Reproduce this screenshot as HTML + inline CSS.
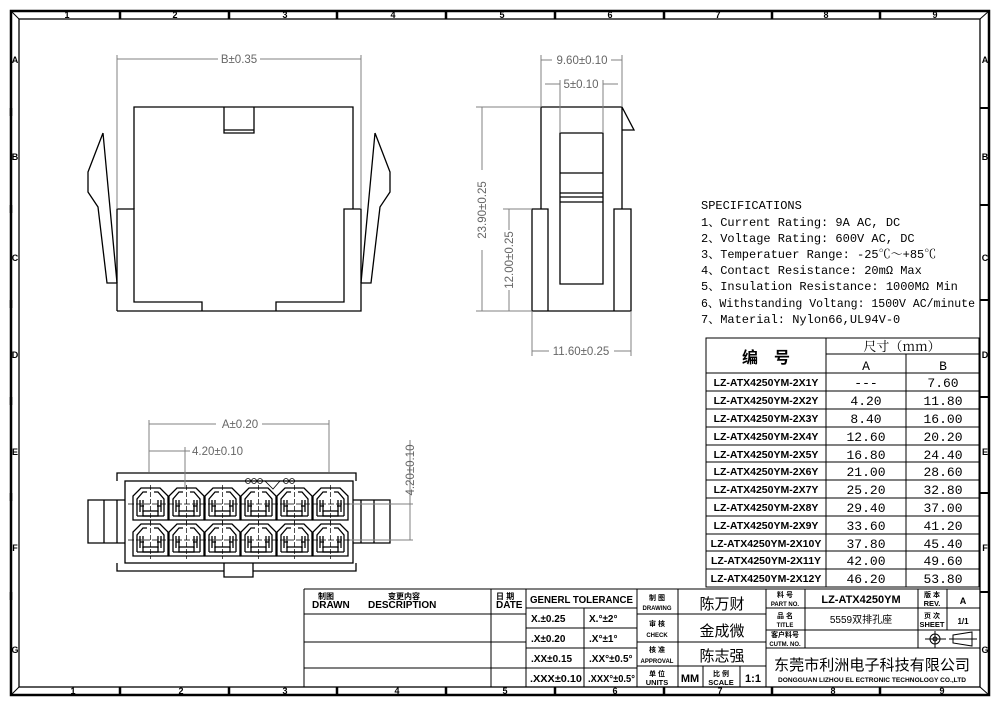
<!DOCTYPE html>
<html><head><meta charset="utf-8"><style>
html,body{margin:0;padding:0;background:#fff}
svg{display:block}
.k{stroke:#000;stroke-width:1.3;fill:none}
.d{stroke:#808080;stroke-width:1;fill:none}
.dt{font-family:"Liberation Sans",sans-serif;font-size:11.5px;fill:#666}
.sp{font-family:"Liberation Mono","Noto Serif CJK SC",monospace;font-size:12px;fill:#000}
.pn{font-family:"Liberation Sans",sans-serif;font-size:10.5px;font-weight:bold;fill:#000}
.vl{font-family:"Liberation Mono",monospace;font-size:13px;fill:#000}
.tb{font-family:"Liberation Sans","Noto Sans CJK SC",sans-serif;font-weight:bold;fill:#000}
.t{stroke:#000;stroke-width:1;fill:none}
</style></head><body>
<svg width="1000" height="707" viewBox="0 0 1000 707" xmlns="http://www.w3.org/2000/svg">
<defs>
<g id="cav">
<path class="k" stroke-width="1" d="M0,32V8L8,0H27L35,8V32Z"/>
<path class="k" stroke-width="0.9" d="M4,28V11L10,4H14M21,4H25L31,11V28M4,28H31"/>
<path class="k" stroke-width="0.9" d="M7,12V24M10,12V24M25,12V24M28,12V24M7,18H11M24,18H28"/>
<rect x="10" y="23" width="15" height="5" class="k" stroke-width="0.9"/>
<path stroke="#000" stroke-width="0.7" stroke-dasharray="5,2" d="M17.5,-3V35"/>
</g>
</defs>
<rect x="11" y="11" width="978" height="684" fill="none" stroke="#000" stroke-width="2.5"/>
<rect x="19" y="19" width="961" height="668" fill="none" stroke="#000" stroke-width="1.3"/>
<path stroke="#000" stroke-width="1" d="M11,11L19,19M989,11L980,19M11,695L19,687M989,695L980,687"/>
<g stroke="#000" stroke-width="2.5">
<path d="M120,11V19M229,11V19M337,11V19M446,11V19M555,11V19M664,11V19M772,11V19M880,11V19"/>
<path d="M120,687V695M229,687V695M337,687V695M446,687V695M555,687V695M664,687V695M772,687V695M880,687V695"/>
<path d="M11,108V116M11,205V213M11,300V308M11,397V405M11,493V501M11,592V600"/>
<path d="M980,108H989M980,205H989M980,300H989M980,397H989M980,493H989M980,592H989" stroke-width="2"/>
</g>
<g font-family="Liberation Sans,sans-serif" font-size="9" font-weight="bold" text-anchor="middle">
<text x="67" y="18">1</text><text x="175" y="18">2</text><text x="285" y="18">3</text><text x="393" y="18">4</text><text x="502" y="18">5</text><text x="610" y="18">6</text><text x="718" y="18">7</text><text x="826" y="18">8</text><text x="935" y="18">9</text>
<text x="73" y="694">1</text><text x="181" y="694">2</text><text x="285" y="694">3</text><text x="397" y="694">4</text><text x="505" y="694">5</text><text x="615" y="694">6</text><text x="720" y="694">7</text><text x="833" y="694">8</text><text x="942" y="694">9</text>
<text x="15" y="63">A</text><text x="15" y="160">B</text><text x="15" y="261">C</text><text x="15" y="358">D</text><text x="15" y="455">E</text><text x="15" y="551">F</text><text x="15" y="653">G</text>
<text x="985" y="63">A</text><text x="985" y="160">B</text><text x="985" y="261">C</text><text x="985" y="358">D</text><text x="985" y="455">E</text><text x="985" y="551">F</text><text x="985" y="653">G</text>
</g>

<path class="k" d="M134,209V107H353V209M224,107V133H254V107M224,130H254"/>
<path class="k" d="M117,311V209H134V302H202V311M117,311H361V209H344V302H276V311"/>
<path class="k" d="M103,133L88,172V192L98,207L107,283H117M103,133L117,283"/>
<path class="k" d="M375,133L390,172V192L380,207L371,283H361M375,133L361,283"/>
<path class="d" d="M117,209V55M361,209V55M117,59H218M260,59H361"/>
<text class="dt" x="239" y="63" text-anchor="middle">B±0.35</text>

<path class="k" d="M541,209V107H622V209M622,107L634,130H622"/>
<path class="k" d="M532,209H548V311H532ZM614,209H631V311H614ZM548,311H614"/>
<path class="k" d="M560,133H603V284H560ZM560,173H603M560,193H603M560,197H603M560,202H603"/>
<path class="d" d="M541,107V55M622,107V55M541,60H552M611,60H622"/>
<text class="dt" x="582" y="64" text-anchor="middle">9.60±0.10</text>
<path class="d" d="M560,133V80M603,133V80M545,84H560M603,84H618"/>
<text class="dt" x="581" y="88" text-anchor="middle">5±0.10</text>
<path class="d" d="M476,107H541M476,311H532M482,107V170M482,250V311"/>
<text class="dt" transform="translate(486,210) rotate(-90)" text-anchor="middle">23.90±0.25</text>
<path class="d" d="M503,209H532M509,209V230M509,290V311"/>
<text class="dt" transform="translate(513,260) rotate(-90)" text-anchor="middle">12.00±0.25</text>
<path class="d" d="M532,311V356M631,311V356M532,351H549M614,351H631"/>
<text class="dt" x="581" y="355" text-anchor="middle">11.60±0.25</text>

<path class="k" d="M117,481V473H356V481M117,563V571H224M253,571H356V563"/>
<rect x="125" y="481" width="228" height="82" class="k"/>
<path class="k" d="M125,500H88V543H125M104,500V543M117,500V543"/>
<path class="k" d="M353,500H390V543H353M374,500V543M361,500V543"/>
<path class="k" d="M224,563V577H253V563"/>
<g fill="none" stroke="#000" stroke-width="0.8"><circle cx="248" cy="481" r="2.5"/><circle cx="254" cy="481" r="2.5"/><circle cx="260" cy="481" r="2.5"/><circle cx="286" cy="481" r="2.5"/><circle cx="292" cy="481" r="2.5"/><path d="M265,481L273,489L280,481"/></g>
<g>
<use href="#cav" x="133" y="488"/><use href="#cav" x="169" y="488"/><use href="#cav" x="205" y="488"/><use href="#cav" x="241" y="488"/><use href="#cav" x="277" y="488"/><use href="#cav" x="313" y="488"/>
<use href="#cav" x="133" y="524"/><use href="#cav" x="169" y="524"/><use href="#cav" x="205" y="524"/><use href="#cav" x="241" y="524"/><use href="#cav" x="277" y="524"/><use href="#cav" x="313" y="524"/>
</g>
<path stroke="#000" stroke-width="0.7" stroke-dasharray="6,2" d="M128,504H350M128,540H350"/>
<path class="d" d="M149,472V420M329,472V420M149,424H216M262,424H329"/>
<text class="dt" x="240" y="428" text-anchor="middle">A±0.20</text>
<path class="d" d="M185,488V447M149,451H190"/>
<text class="dt" x="192" y="455">4.20±0.10</text>
<path class="d" d="M350,504H413M350,540H413M410,504V540M410,440V504"/>
<text class="dt" transform="translate(414,470) rotate(-90)" text-anchor="middle">4.20±0.10</text>

<g class="sp">
<text x="701" y="209">SPECIFICATIONS</text>
<text x="701" y="226">1、Current Rating: 9A AC, DC</text>
<text x="701" y="242">2、Voltage Rating: 600V AC, DC</text>
<text x="701" y="258">3、Temperatuer Range: -25℃～+85℃</text>
<text x="701" y="274">4、Contact Resistance: 20mΩ Max</text>
<text x="701" y="290">5、Insulation Resistance: 1000MΩ Min</text>
<text x="701" y="307" textLength="274" lengthAdjust="spacingAndGlyphs">6、Withstanding Voltang: 1500V AC/minute</text>
<text x="701" y="323">7、Material: Nylon66,UL94V-0</text>
</g>

<g class="t" stroke-width="1.3">
<rect x="706" y="338" width="273" height="249"/>
<path d="M826,338V587M906,354V587M826,354H979M706,373H979"/>
<path d="M706,391H979M706,409H979M706,427H979M706,445H979M706,462H979M706,480H979M706,498H979M706,516H979M706,534H979M706,551H979M706,569H979"/>
</g>
<text x="766" y="363" text-anchor="middle" font-family="Noto Sans CJK SC,sans-serif" font-size="16" font-weight="bold">编　号</text>
<text x="902" y="351" text-anchor="middle" font-family="Noto Serif CJK SC,serif" font-size="13">尺寸（mm）</text>
<text x="866" y="370" text-anchor="middle" class="vl">A</text><text x="943" y="370" text-anchor="middle" class="vl">B</text>
<g class="pn" text-anchor="middle">
<text x="766" y="386">LZ-ATX4250YM-2X1Y</text><text x="766" y="404">LZ-ATX4250YM-2X2Y</text><text x="766" y="422">LZ-ATX4250YM-2X3Y</text><text x="766" y="440">LZ-ATX4250YM-2X4Y</text><text x="766" y="458">LZ-ATX4250YM-2X5Y</text><text x="766" y="475">LZ-ATX4250YM-2X6Y</text><text x="766" y="493">LZ-ATX4250YM-2X7Y</text><text x="766" y="511">LZ-ATX4250YM-2X8Y</text><text x="766" y="529">LZ-ATX4250YM-2X9Y</text><text x="766" y="547">LZ-ATX4250YM-2X10Y</text><text x="766" y="564">LZ-ATX4250YM-2X11Y</text><text x="766" y="582">LZ-ATX4250YM-2X12Y</text>
</g>
<g class="vl" text-anchor="middle">
<text x="866" y="387">---</text><text x="943" y="387">7.60</text>
<text x="866" y="405">4.20</text><text x="943" y="405">11.80</text>
<text x="866" y="423">8.40</text><text x="943" y="423">16.00</text>
<text x="866" y="441">12.60</text><text x="943" y="441">20.20</text>
<text x="866" y="459">16.80</text><text x="943" y="459">24.40</text>
<text x="866" y="476">21.00</text><text x="943" y="476">28.60</text>
<text x="866" y="494">25.20</text><text x="943" y="494">32.80</text>
<text x="866" y="512">29.40</text><text x="943" y="512">37.00</text>
<text x="866" y="530">33.60</text><text x="943" y="530">41.20</text>
<text x="866" y="548">37.80</text><text x="943" y="548">45.40</text>
<text x="866" y="565">42.00</text><text x="943" y="565">49.60</text>
<text x="866" y="583">46.20</text><text x="943" y="583">53.80</text>
</g>

<g class="t" stroke-width="1.3">
<path d="M304,589H980M304,589V687"/>
<path d="M304,614H526M304,642H526M304,668H526"/>
<path d="M491,589V687M526,589V687M584,608V687M637,589V687M678,589V687M766,589V687"/>
<path d="M526,608H637M526,628H637M526,648H637M526,668H637"/>
<path d="M637,614H766M637,642H766M637,666H766"/>
<path d="M703,666V687M740,666V687"/>
<path d="M805,589V648M918,589V648M947,589V630M766,608H980M766,630H980M766,648H980"/>
</g>
<g class="tb" font-size="8">
<text x="318" y="599">制图</text><text x="312" y="608" font-size="10">DRAWN</text>
<text x="388" y="599">变更内容</text><text x="368" y="608" font-size="10">DESCRIPTION</text>
<text x="496" y="599">日 期</text><text x="496" y="608" font-size="10">DATE</text>
</g>
<g class="tb" font-size="10">
<text x="530" y="603" font-size="10.5" textLength="103" lengthAdjust="spacingAndGlyphs">GENERL  TOLERANCE</text>
<text x="531" y="622">X.±0.25</text><text x="589" y="622">X.°±2°</text>
<text x="531" y="642">.X±0.20</text><text x="589" y="642">.X°±1°</text>
<text x="531" y="662">.XX±0.15</text><text x="589" y="662">.XX°±0.5°</text>
<text x="530" y="682" textLength="52" lengthAdjust="spacingAndGlyphs">.XXX±0.10</text><text x="588" y="682" textLength="47" lengthAdjust="spacingAndGlyphs">.XXX°±0.5°</text>
</g>
<g class="tb" font-size="7" text-anchor="middle">
<text x="657" y="600">制 图</text><text x="657" y="610" font-size="6">DRAWING</text>
<text x="657" y="626">审 核</text><text x="657" y="637" font-size="6">CHECK</text>
<text x="657" y="652">核 准</text><text x="657" y="663" font-size="6">APPROVAL</text>
<text x="657" y="676">单 位</text><text x="657" y="685" font-size="7.5">UNITS</text>
<text x="721" y="676">比 例</text><text x="721" y="685" font-size="7.5">SCALE</text>
<text x="785" y="597">料 号</text><text x="785" y="606" font-size="6">PART NO.</text>
<text x="785" y="618">品 名</text><text x="785" y="627" font-size="6">TITLE</text>
<text x="785" y="637">客户料号</text><text x="785" y="646" font-size="6">CUTM. NO.</text>
<text x="932" y="597">版 本</text><text x="932" y="606" font-size="7.5">REV.</text>
<text x="932" y="618">页 次</text><text x="932" y="627" font-size="7.5">SHEET</text>
</g>
<g font-family="Noto Sans CJK SC,sans-serif" font-size="15" text-anchor="middle">
<text x="722" y="609">陈万财</text><text x="722" y="636">金成微</text><text x="722" y="661">陈志强</text>
</g>
<g class="tb" text-anchor="middle">
<text x="690" y="682" font-size="11">MM</text><text x="753" y="682" font-size="11">1:1</text>
<text x="861" y="603" font-size="11">LZ-ATX4250YM</text>
<text x="861" y="623" font-size="10" font-weight="normal">5559双排孔座</text>
<text x="963" y="604" font-size="9">A</text><text x="963" y="624" font-size="8">1/1</text>
<text x="872" y="670" font-size="15" font-weight="normal" textLength="196" lengthAdjust="spacingAndGlyphs">东莞市利洲电子科技有限公司</text>
<text x="872" y="682" font-size="6" textLength="188" lengthAdjust="spacingAndGlyphs">DONGGUAN LIZHOU EL ECTRONIC TECHNOLOGY CO.,LTD</text>
</g>
<g stroke="#000" stroke-width="1" fill="none">
<circle cx="935" cy="639" r="5"/><circle cx="935" cy="639" r="2"/><path d="M925,639H946M935,631V648"/>
<path d="M953,635L972,632V646L953,643ZM949,639H977"/>
</g>
</svg>
</body></html>
